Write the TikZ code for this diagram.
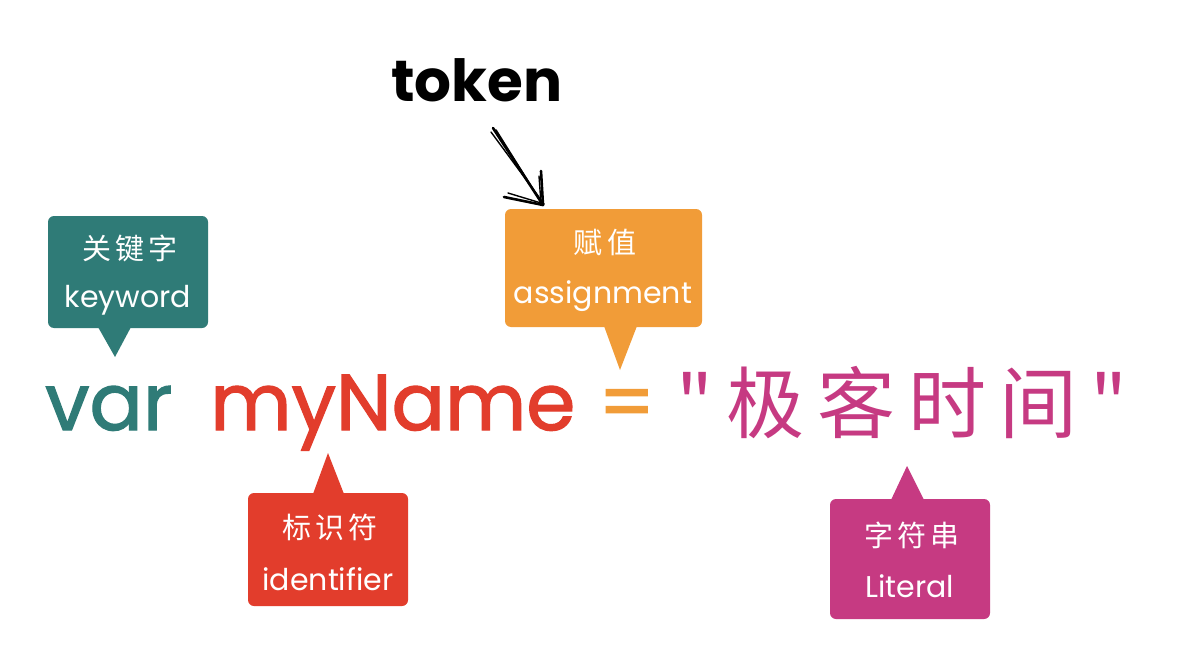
\documentclass[tikz,border=0pt]{standalone}
\usepackage{fontspec}
\usetikzlibrary{calc}
\setmainfont{Poppins}
\newfontfamily\popfat[FakeBold=1.6]{Poppins}
\newfontfamily\cjk{Noto Sans CJK SC}
\newfontfamily\cjksp[LetterSpace=14]{Noto Sans CJK SC}
\definecolor{cteal}{HTML}{2F7B77}
\definecolor{cred}{HTML}{E23D2C}
\definecolor{corange}{HTML}{F19C38}
\definecolor{cmag}{HTML}{C63A82}
\begin{document}
\begin{tikzpicture}[x=1pt,y=-1pt,
  callout/.style={fill=#1, rounded corners=6pt, inner sep=0pt},
  lbl/.style={text=white, inner sep=0pt, font=\fontsize{30}{32}\selectfont},
  clbl/.style={text=white, inner sep=0pt, font=\cjksp\fontsize{29}{32}\selectfont},
  big/.style={inner sep=0pt, anchor=base west, font=\popfat\fontsize{79}{90}\selectfont},
  sketch/.style={line width=2.6pt, line cap=round, black}]
\fill[white] (0,0) rectangle (1178,658);
\useasboundingbox (0,0) rectangle (1178,658);

% main line
\node[big, text=cteal] (var) at (45,430) {var};
\node[big, text=cred] (myname) at (210,430) {myName};
\node[big, text=corange] (eq) at (598,430) {=};
\node[big, text=cmag, font=\cjk\fontsize{78}{90}\selectfont] (str) at (676,432) {"\,极\,客\,时\,间\,"};

% keyword
\node[callout=cteal, minimum width=160pt, minimum height=112pt] (kw) at (128,272) {};
\fill[cteal] (98,327) -- (115,357) -- (131,327) -- cycle;
\node[clbl] (kwc) at (130,248) {关键字};
\node[lbl] (kwl) at (128,300) {keyword};

% assignment
\node[callout=corange, minimum width=197pt, minimum height=118pt] (asg) at (603.5,268) {};
\fill[corange] (604,326) -- (620,370) -- (637,326) -- cycle;
\node[clbl] (asgc) at (605,242) {赋值};
\node[lbl] (asgl) at (603,296) {assignment};

% identifier
\node[callout=cred, minimum width=160pt, minimum height=113pt] (idf) at (328,549.5) {};
\fill[cred] (313,494) -- (328,453) -- (344,494) -- cycle;
\node[clbl] (idfc) at (330,527) {标识符};
\node[lbl] (idfl) at (328,579) {identifier};

% literal
\node[callout=cmag, minimum width=160pt, minimum height=120pt] (lit) at (910,559) {};
\fill[cmag] (891,500) -- (907,466) -- (924,500) -- cycle;
\node[clbl] (litc) at (912,535) {字符串};
\node[lbl] (litl) at (910,586) {Literal};

% token + arrow
\node[inner sep=0pt, font=\bfseries\fontsize{58}{60}\selectfont] (token) at (477,80) {token};
\coordinate (astart) at (493,128);
\coordinate (atip) at (543,205);
\draw[sketch] (astart) -- (atip);
\draw[sketch, line width=1.6pt] ($(astart)+(3,2)$) -- ($(atip)+(-2,-3)$);
\draw[sketch, line width=1.4pt] ($(astart)+(-2,4)$) -- ($(atip)+(1,-1)$);
\draw[sketch] (atip) -- (541,171);
\draw[sketch, line width=1.4pt] ($(atip)+(-2,-1)$) -- (539,176);
\draw[sketch] (atip) -- (504,197);
\draw[sketch, line width=1.4pt] ($(atip)+(-2,-2)$) -- (508,193);
\end{tikzpicture}
\end{document}
